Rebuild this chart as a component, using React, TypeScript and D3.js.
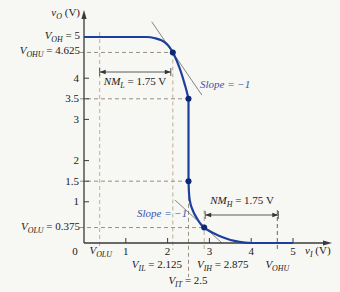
import React from "react";
import * as d3 from "d3";

const W = 340;
const H = 292;

// Data (volts)
const xTicks = [1, 2, 3, 4, 5];
const yTicks = [1, 1.5, 2, 3, 3.5, 4];
const V_OH = 5;
const V_OHU = 4.625;
const V_OLU = 0.375;
const V_IL = 2.125;
const V_IH = 2.875;
const V_IT = 2.5;
const curveTop: [number, number][] = [
  [0, 5], [1.5, 5], [1.7, 4.97], [1.85, 4.92], [1.97, 4.84], [2.05, 4.75],
  [2.125, 4.625], [2.22, 4.42], [2.32, 4.15], [2.41, 3.85], [2.47, 3.63], [2.5, 3.5],
];
const curveBottom: [number, number][] = [
  [2.5, 1.5], [2.51, 1.25], [2.53, 1.04], [2.6, 0.8], [2.7, 0.6], [2.8, 0.45],
  [2.875, 0.375], [3.0, 0.29], [3.2, 0.19], [3.4, 0.11], [3.6, 0.05], [3.85, 0.01], [4.0, 0], [5, 0],
];
const keyPoints: [number, number][] = [[2.125, 4.625], [2.5, 3.5], [2.5, 1.5], [2.875, 0.375]];
const tangentTop: [number, number][] = [[1.62, 5.37], [2.82, 3.59]];
const tangentBottom: [number, number][] = [[2.18, 1.04], [3.3, 0]];

const x = d3.scaleLinear().domain([0, 5]).range([84, 293]);
const y = d3.scaleLinear().domain([0, 5]).range([243, 37]);

const BLUE = "#1c3f9e";
const DOT = "#0b2878";
const AXIS = "#3a3a3a";
const DASH = "#8f8374";
const DASHV = "#b8a890";
const SLOPE = "#3456b0";
const FONT = "Liberation Serif, Times New Roman, Times, serif";

const line = d3.line<[number, number]>().x((d) => x(d[0])).y((d) => y(d[1])).curve(d3.curveMonotoneX);
const straight = d3.line<[number, number]>().x((d) => x(d[0])).y((d) => y(d[1]));

function Sub({ main, sub, rest, x: tx, y: ty, anchor = "start", size = 11 }: any) {
  return (
    <text x={tx} y={ty} textAnchor={anchor} fontFamily={FONT} fontSize={size} fill="#1a1a1a">
      <tspan fontStyle="italic">{main}</tspan>
      <tspan fontStyle="italic" fontSize={size * 0.72} dy={3}>{sub}</tspan>
      {rest ? <tspan dy={-3}>{rest}</tspan> : null}
    </text>
  );
}

function Arrow({ x1, x2, yy }: { x1: number; x2: number; yy: number }) {
  return (
    <g>
      <line x1={x1} x2={x2} y1={yy} y2={yy} stroke="#333" strokeWidth={0.8} />
      <path d={`M${x1},${yy} l6,-2.2 l0,4.4 z`} fill="#333" />
      <path d={`M${x2},${yy} l-6,-2.2 l0,4.4 z`} fill="#333" />
      <line x1={x1} x2={x1} y1={yy - 4} y2={yy + 4} stroke="#333" strokeWidth={0.8} />
      <line x1={x2} x2={x2} y1={yy - 4} y2={yy + 4} stroke="#333" strokeWidth={0.8} />
    </g>
  );
}

export default function App() {
  const x0 = x(0);
  const y0 = y(0);
  const dash = "4,3";
  return (
    <svg width={W} height={H} style={{ position: "fixed", left: 0, top: 0 }}>
      <rect width={W} height={H} fill="#f7f7f3" />
      {/* dashed horizontal guides */}
      {[[V_OHU, V_IL], [3.5, V_IT], [1.5, V_IT], [V_OLU, V_IH]].map(([vy, vx], i) => (
        <line key={"h" + i} x1={x0 - 4} x2={x(vx)} y1={y(vy)} y2={y(vy)} stroke={DASH} strokeWidth={0.9} strokeDasharray={dash} />
      ))}
      {/* dashed vertical guides */}
      <line x1={x(V_OLU)} x2={x(V_OLU)} y1={32} y2={y0 + 4} stroke={DASHV} strokeWidth={0.9} strokeDasharray={dash} />
      <line x1={x(V_IL)} x2={x(V_IL)} y1={y(V_OHU)} y2={250} stroke={DASHV} strokeWidth={0.9} strokeDasharray={dash} />
      <line x1={x(V_IT)} x2={x(V_IT)} y1={y(3.5)} y2={277} stroke={DASH} strokeWidth={0.9} strokeDasharray={dash} />
      <line x1={x(V_IH)} x2={x(V_IH)} y1={210} y2={250} stroke={DASHV} strokeWidth={0.9} strokeDasharray={dash} />
      <line x1={x(V_OHU)} x2={x(V_OHU)} y1={210} y2={250} stroke={"#555"} strokeWidth={0.9} strokeDasharray={dash} />

      {/* tangents */}
      <path d={straight(tangentTop) || ""} stroke="#666" strokeWidth={0.8} fill="none" />
      <path d={straight(tangentBottom) || ""} stroke="#666" strokeWidth={0.8} fill="none" />

      {/* axes */}
      <line x1={x0} x2={x0} y1={y0} y2={14} stroke={AXIS} strokeWidth={1.3} />
      <path d={`M${x0},10 l-2.6,9 l5.2,0 z`} fill={AXIS} />
      <line x1={x0} x2={328} y1={y0} y2={y0} stroke={AXIS} strokeWidth={1.3} />
      <path d={`M${332},${y0} l-9,-2.6 l0,5.2 z`} fill={AXIS} />
      {xTicks.map((t) => (
        <g key={"xt" + t}>
          <line x1={x(t)} x2={x(t)} y1={y0} y2={y0 - 5} stroke={AXIS} strokeWidth={1} />
          <text x={x(t)} y={y0 + 12} textAnchor="middle" fontFamily={FONT} fontSize={11} fill="#1a1a1a">{t}</text>
        </g>
      ))}
      {yTicks.map((t) => (
        <g key={"yt" + t}>
          <line x1={x0} x2={x0 + 5} y1={y(t)} y2={y(t)} stroke={AXIS} strokeWidth={1} />
          <text x={x0 - 5} y={y(t) + 3.5} textAnchor="end" fontFamily={FONT} fontSize={11} fill="#1a1a1a">{t}</text>
        </g>
      ))}
      <text x={75} y={y0 + 12} textAnchor="middle" fontFamily={FONT} fontSize={11} fill="#1a1a1a">0</text>

      {/* y-axis special labels */}
      <Sub main="V" sub="OH" rest=" = 5" x={80} y={y(V_OH) + 2} anchor="end" />
      <Sub main="V" sub="OHU" rest=" = 4.625" x={80} y={y(V_OHU) + 2} anchor="end" />
      <Sub main="V" sub="OLU" rest=" = 0.375" x={80} y={y(V_OLU) + 2} anchor="end" />
      <Sub main="v" sub="O" rest=" (V)" x={80} y={16} anchor="end" />

      {/* x-axis special labels */}
      <Sub main="V" sub="OLU" x={x(V_OLU) + 1} y={y0 + 11} anchor="middle" />
      <Sub main="v" sub="I" rest=" (V)" x={305} y={y0 + 11} />
      <Sub main="V" sub="IL" rest=" = 2.125" x={182} y={268} anchor="end" />
      <Sub main="V" sub="IH" rest=" = 2.875" x={197} y={268} />
      <Sub main="V" sub="IT" rest=" = 2.5" x={188} y={284} anchor="middle" />
      <Sub main="V" sub="OHU" x={x(V_OHU)} y={268} anchor="middle" />

      {/* noise margins */}
      <Arrow x1={x(V_OLU)} x2={x(V_IL) - 2} yy={72} />
      <Sub main="NM" sub="L" rest=" = 1.75 V" x={135} y={85} anchor="middle" />
      <Arrow x1={x(V_IH) + 1} x2={x(V_OHU) + 1} yy={215} />
      <Sub main="NM" sub="H" rest=" = 1.75 V" x={242} y={204} anchor="middle" />

      {/* slope labels */}
      <text x={200} y={88} fontFamily={FONT} fontSize={11} fontStyle="italic" fill={SLOPE}>Slope = −1</text>
      <text x={137} y={217} fontFamily={FONT} fontSize={11} fontStyle="italic" fill={SLOPE}>Slope = −1</text>

      {/* transfer curve */}
      <path d={line(curveTop) || ""} stroke={BLUE} strokeWidth={2.2} fill="none" />
      <line x1={x(V_IT)} x2={x(V_IT)} y1={y(3.5)} y2={y(1.5)} stroke={BLUE} strokeWidth={2.2} />
      <path d={line(curveBottom) || ""} stroke={BLUE} strokeWidth={2.2} fill="none" />
      {keyPoints.map((p, i) => (
        <circle key={"p" + i} cx={x(p[0])} cy={y(p[1])} r={3} fill={DOT} />
      ))}
    </svg>
  );
}
